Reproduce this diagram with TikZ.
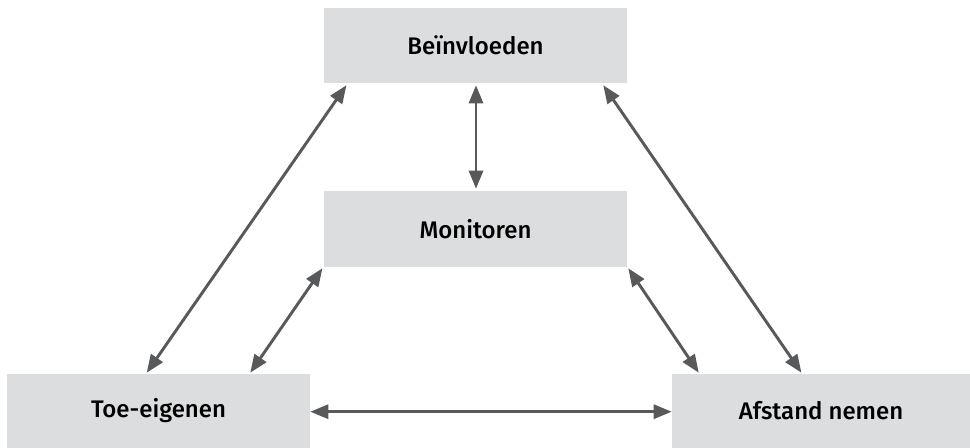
\documentclass[tikz,border=0pt]{standalone}
\usepackage{fontspec}
\setmainfont{Fira Sans}[BoldFont={Fira Sans Medium}]
\usetikzlibrary{arrows.meta,calc}

\definecolor{boxgrey}{RGB}{220,221,222}
\definecolor{arrowgrey}{RGB}{88,89,91}

\tikzset{
	stagebox/.style={fill=boxgrey, draw=none, inner sep=0pt, font=\fontsize{18}{21}\selectfont\bfseries, text=black},
	twoway/.style={draw=arrowgrey, line width=2.2pt, {Triangle[length=13.5pt,width=10.5pt]}-{Triangle[length=13.5pt,width=10.5pt]}}}

\begin{document}
\begin{tikzpicture}[x=0.75pt,y=0.75pt,yscale=-1,xscale=1]
	\useasboundingbox (0,0) rectangle (970,448);

	%Shape: Rectangle [Beinvloeden]
	\node [stagebox, minimum width=227.25pt, minimum height=56.25pt] (boen) at (475.5,45.5) {Beïnvloeden};
	%Shape: Rectangle [Monitoren]
	\node [stagebox, minimum width=227.25pt, minimum height=57pt] (moni) at (475.5,229) {Monitoren};
	%Shape: Rectangle [Toe-eigenen]
	\node [stagebox, minimum width=227.25pt, minimum height=55.5pt] (toe) at (158.5,411) {Toe-eigenen};
	%Shape: Rectangle [Afstand nemen]
	\node [stagebox, minimum width=223.5pt, minimum height=55.5pt] (afst) at (821,411) {Afstand nemen};

	% Arrows
	\draw [twoway] ($(boen.south west)+(22.7,2)$) -- ($(toe.north)+(-11.8,-1)$);
	\draw [twoway] ($(boen.south)+(0.5,2)$) -- ($(moni.north)+(0.5,-2)$);
	\draw [twoway] ($(boen.south east)+(-24,2)$) -- ($(afst.north west)+(129.7,-1)$);
	\draw [twoway] ($(moni.south west)+(-1.3,1)$) -- ($(toe.north east)+(-60,-1)$);
	\draw [twoway] ($(moni.south east)+(1,1)$) -- ($(afst.north west)+(27,-1)$);
	\draw [twoway] ($(toe.east)+(0,0.7)$) -- ($(afst.west)+(0,0.7)$);

\end{tikzpicture}
\end{document}
